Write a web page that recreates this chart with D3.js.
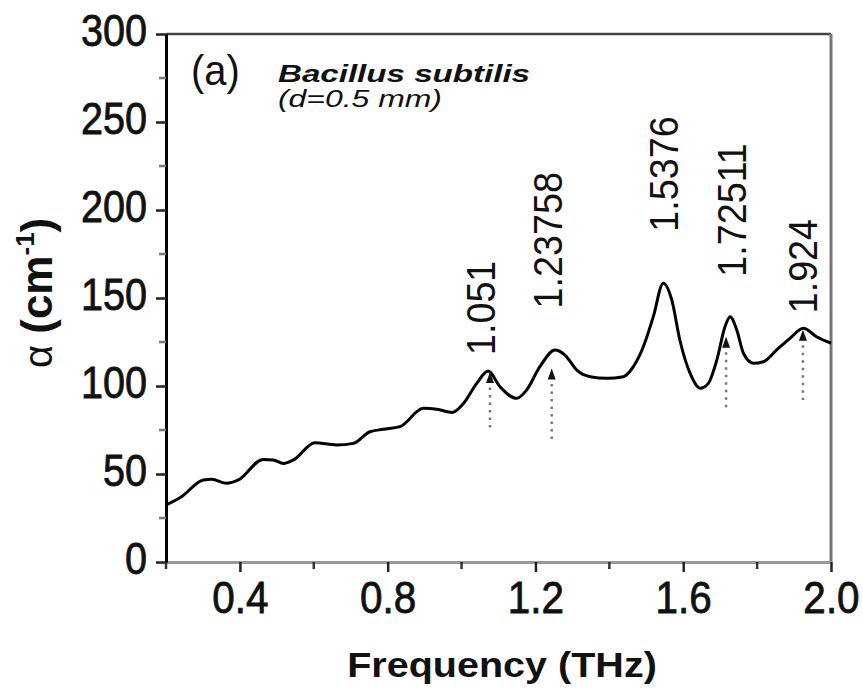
<!DOCTYPE html>
<html>
<head>
<meta charset="utf-8">
<script src="https://cdn.jsdelivr.net/npm/d3@7"></script>
<style>
  body { margin: 0; background: #fff; }
  svg text { font-family: "Liberation Sans", Arial, sans-serif; fill: #111; }
</style>
</head>
<body>
<div id="chart"></div>
<script>
// absorption spectrum, values
const freq = [0.2, 0.242, 0.301, 0.324, 0.364, 0.396, 0.463, 0.49, 0.518, 0.545, 0.603, 0.662, 0.707,
  0.752, 0.788, 0.833, 0.897, 0.933, 0.975, 1.005, 1.041, 1.072, 1.104, 1.149, 1.176, 1.212, 1.253,
  1.28, 1.312, 1.348, 1.393, 1.438, 1.465, 1.492, 1.519, 1.546, 1.569, 1.591, 1.619, 1.646, 1.668,
  1.691, 1.713, 1.727, 1.745, 1.763, 1.79, 1.817, 1.853, 1.889, 1.925, 1.961, 2.0];
const alpha = [32.4, 37.1, 46.6, 47, 44.7, 46.6, 58.3, 58, 56, 58, 67.8, 66.5, 67.4,
  74, 75.4, 76.9, 87.3, 86.8, 85, 90, 101.5, 108.5, 99.6, 93, 97.7, 111, 120.5,
  117.6, 109, 105.3, 104.4, 105.3, 111, 122.3, 139.4, 158.4, 148.9, 126, 107, 98.7, 101.5,
  114.8, 133.7, 139.4, 131.8, 118.6, 112.9, 113.8, 120.5, 127.1, 132.8, 128, 124.3];

// peak annotations
const peakText = ['1.051', '1.23758', '1.5376', '1.72511', '1.924'];
const peakFreq = [1.077, 1.244, 1.546, 1.716, 1.924];
const markTop = [108, 110, null, 128, 132];
const markBottom = [76, 69, null, 87.5, 92];
const labelFreq = [1.091, 1.271, 1.585, 1.769, 1.961];
const labelAlpha = [117.6, 144.1, 187.7, 162.1, 141.3];

// ticks
const xTicks = [0.4, 0.8, 1.2, 1.6, 2.0];
const xMinor = [0.2, 0.6, 1.0, 1.4, 1.8];
const yTicks = [0, 50, 100, 150, 200, 250, 300];
const yMinor = [25, 75, 125, 175, 225, 275];

const W = 863, H = 689;
const svg = d3.select('#chart').append('svg').attr('width', W).attr('height', H);

const x = d3.scaleLinear().domain([0.2, 2.0]).range([166, 831]);
const y = d3.scaleLinear().domain([0, 300]).range([562, 34]);

function addText(g, str, px, py, opt) {
  return g.append('text')
    .attr('transform', 'translate(' + px + ',' + py + ') rotate(' + (opt.rotate || 0) + ') scale(' + (opt.sx || 1) + ',1)')
    .attr('text-anchor', opt.anchor || 'start')
    .style('font-size', opt.size + 'px')
    .style('font-weight', opt.weight || 'normal')
    .style('font-style', opt.style || 'normal')
    .text(str);
}

// frame: top and right
svg.append('line').attr('x1', x(0.2)).attr('x2', x(2.0)).attr('y1', y(300)).attr('y2', y(300))
  .attr('stroke', '#444').attr('stroke-width', 2.5);
svg.append('line').attr('x1', x(2.0)).attr('x2', x(2.0)).attr('y1', y(300)).attr('y2', y(0))
  .attr('stroke', '#777').attr('stroke-width', 3);

// x axis
const gx = svg.append('g').attr('transform', 'translate(0,' + y(0) + ')');
gx.call(d3.axisBottom(x).tickValues(xTicks).tickSize(10).tickSizeOuter(0).tickFormat(d3.format('.1f')));
gx.select('.domain').attr('stroke', '#999').attr('stroke-width', 3);
gx.selectAll('.tick line').attr('stroke', '#222').attr('stroke-width', 2.5);
gx.selectAll('.tick text')
  .attr('y', 50.7).attr('dy', 0)
  .attr('transform', 'scale(0.92,1)')
  .style('font-size', '44px').attr('fill', '#111')
  .attr('stroke', '#111').attr('stroke-width', 0.8);
gx.selectAll('.minor').data(xMinor).enter().append('line')
  .attr('x1', d => x(d)).attr('x2', d => x(d)).attr('y1', 0).attr('y2', 7)
  .attr('stroke', '#333').attr('stroke-width', 2.5);

// y axis
const gy = svg.append('g').attr('transform', 'translate(' + x(0.2) + ',0)');
gy.call(d3.axisLeft(y).tickValues(yTicks).tickSize(10).tickSizeOuter(0));
gy.select('.domain').attr('stroke', '#000').attr('stroke-width', 3);
gy.selectAll('.tick line').attr('stroke', '#222').attr('stroke-width', 2.5);
gy.selectAll('.tick text')
  .attr('x', -21).attr('dy', '0.25em')
  .attr('transform', 'scale(0.9,1)')
  .style('font-size', '44px').attr('fill', '#111')
  .attr('stroke', '#111').attr('stroke-width', 0.8);
gy.selectAll('.minor').data(yMinor).enter().append('line')
  .attr('x1', -7).attr('x2', 0).attr('y1', d => y(d)).attr('y2', d => y(d))
  .attr('stroke', '#777').attr('stroke-width', 2.5);

// spectrum
const line = d3.line().x((d, i) => x(freq[i])).y(d => y(d)).curve(d3.curveMonotoneX);
svg.append('path').datum(alpha).attr('d', line)
  .attr('fill', 'none').attr('stroke', '#000').attr('stroke-width', 3).attr('stroke-linejoin', 'round');

// dotted markers with arrow heads
peakFreq.forEach((f, i) => {
  if (markTop[i] == null) return;
  svg.append('line')
    .attr('x1', x(f)).attr('x2', x(f)).attr('y1', y(markTop[i]) + 8).attr('y2', y(markBottom[i]))
    .attr('stroke', '#777').attr('stroke-width', 2.5).attr('stroke-dasharray', '2.5,5');
  svg.append('path')
    .attr('d', 'M' + x(f) + ',' + y(markTop[i]) + 'l-4,11h8z')
    .attr('fill', '#111');
});

// peak labels
peakText.forEach((t, i) => {
  addText(svg, t, x(labelFreq[i]), y(labelAlpha[i]), { size: 41, rotate: -90, sx: 0.92 });
});

// panel text
addText(svg, '(a)', 191, 85, { size: 42, sx: 0.95 });
addText(svg, 'Bacillus subtilis', 278, 82, { size: 24, weight: 'bold', style: 'italic', sx: 1.38 });
addText(svg, '(d=0.5 mm)', 278, 107, { size: 24, style: 'italic', sx: 1.33 });

// axis titles
addText(svg, 'Frequency (THz)', 502, 677, { size: 35, weight: 'bold', anchor: 'middle', sx: 1.13 });

const yt = svg.append('text')
  .attr('transform', 'translate(52,368) rotate(-90)')
  .style('font-size', '44px').style('font-weight', 'bold');
yt.append('tspan').text('α ').style('font-weight', 'normal').style('font-size', '40px');
yt.append('tspan').text('(cm');
yt.append('tspan').text('-1').style('font-size', '26px').attr('dy', -18);
yt.append('tspan').text(')').attr('dy', 18);
</script>
</body>
</html>
